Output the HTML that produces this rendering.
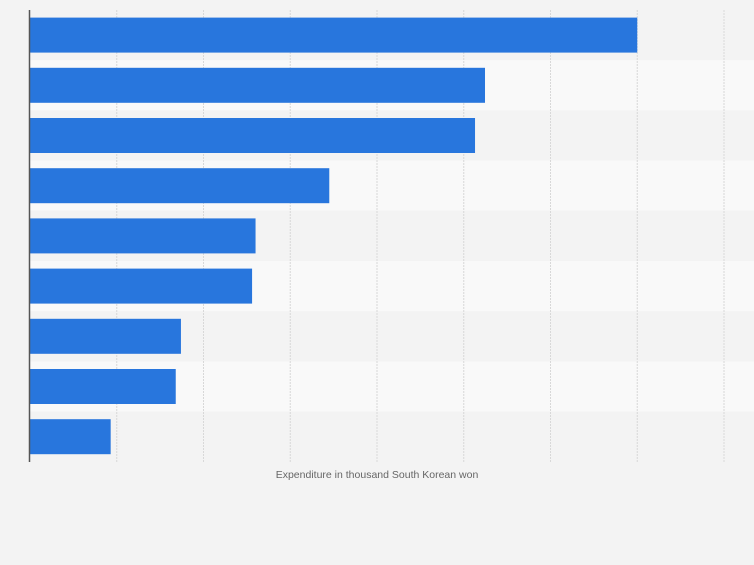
<!DOCTYPE html>
<html><head><meta charset="utf-8"><style>
body{margin:0;background:#f3f3f3;font-family:"Liberation Sans",sans-serif}
</style></head><body>
<svg id="chart" width="754" height="560" xmlns="http://www.w3.org/2000/svg">
<rect width="754" height="560" fill="#f3f3f3"/>
<g id="bands"></g><g id="grid"></g><g id="bars"></g>
<line x1="29.5" y1="10" x2="29.5" y2="462" stroke="#555" stroke-width="1.5"/>
<text x="377" y="478" text-anchor="middle" font-size="10.5" fill="#666">Expenditure in thousand South Korean won</text>
</svg>
<script>
const categories=["c1","c2","c3","c4","c5","c6","c7","c8","c9"];
const values=[7.0,5.245,5.13,3.45,2.6,2.56,1.74,1.68,0.93];
const ticks=[0,1,2,3,4,5,6,7,8];
const x0=30,unit=86.75,top0=10,band=50.2,barH=35;
const xs=v=>x0+v*unit;
const ns="http://www.w3.org/2000/svg";
const bands=document.getElementById('bands'),grid=document.getElementById('grid'),bars=document.getElementById('bars');
categories.forEach((c,i)=>{
 const r=document.createElementNS(ns,'rect');
 
 
 r.setAttribute('x',x0);r.setAttribute('y',top0+i*band);r.setAttribute('width',754-x0);r.setAttribute('height',band);
 r.setAttribute('fill',i%2?'#f9f9f9':'#f3f3f3');bands.appendChild(r);
 const b=document.createElementNS(ns,'rect');
 
 
 b.setAttribute('x',x0);b.setAttribute('y',top0+i*band+(band-barH)/2);b.setAttribute('width',xs(values[i])-x0);b.setAttribute('height',barH);
 b.setAttribute('fill','#2876dd');bars.appendChild(b);
});
ticks.slice(1).forEach(t=>{
 const l=document.createElementNS(ns,'line');
 
 
 l.setAttribute('x1',xs(t));l.setAttribute('x2',xs(t));l.setAttribute('y1',10);l.setAttribute('y2',462);
 l.setAttribute('stroke','#d8d8d8');l.setAttribute('stroke-dasharray','2,1');grid.appendChild(l);
});
</script>
</body></html>
